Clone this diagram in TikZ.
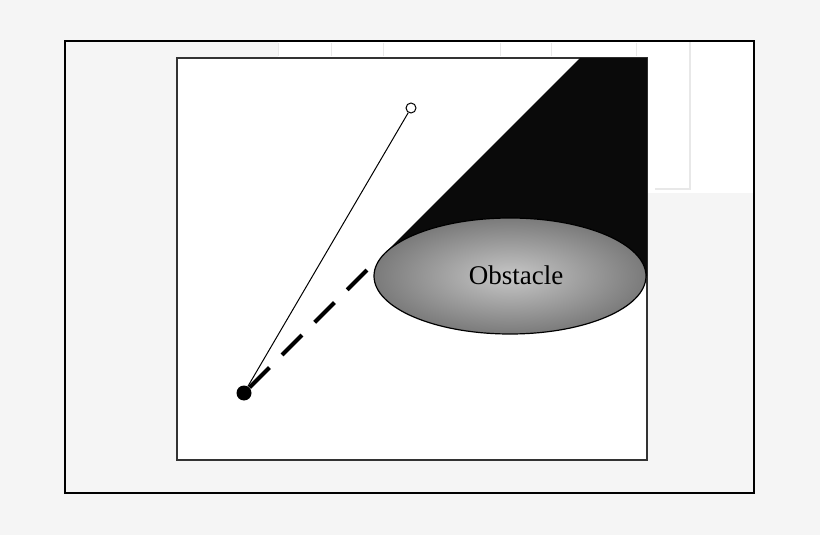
\documentclass[tikz,border=0pt]{standalone}
\usepackage{fontspec}
\setmainfont{Liberation Serif}
\usetikzlibrary{shapes.geometric}
\definecolor{pagegray}{HTML}{F5F5F5}
\definecolor{faintgray}{HTML}{E8E8E8}
\tikzset{
  framebox/.style={draw=black, line width=0.75pt},
  fieldbox/.style={draw=black!80, line width=1.25pt, fill=white},
  robotdot/.style={circle, fill=black, inner sep=0pt, minimum size=7.5pt},
  goaldot/.style={circle, draw=black, fill=white, line width=0.5pt, inner sep=0pt, minimum size=5pt},
  obstaclebox/.style={ellipse, draw=black, line width=0.6pt, inner sep=0pt,
    minimum width=136pt, minimum height=58pt,
    inner color=black!22, outer color=black!52},
  sightline/.style={line width=0.5pt},
  blockedline/.style={line width=2pt, dash pattern=on 14pt off 9pt},
}
\begin{document}
\begin{tikzpicture}[x=0.5pt, y=-0.5pt]
\useasboundingbox (0,0) rectangle (820,535);
\fill[pagegray] (0,0) rectangle (820,535);

% faint background residue
\fill[white] (278,42) rectangle (753,193);
\draw[faintgray, line width=1pt] (690,42) -- (690,189) -- (655,189);
\foreach \tx in {278,331,383,500,551,636}
  \draw[faintgray, line width=0.5pt] (\tx,43) -- (\tx,56);

% frames
\draw[framebox] (65,41) rectangle (754,493);
\draw[fieldbox] (177,58) rectangle (647,460);

% shadow behind the obstacle
\fill[black!96] (385,253) -- (580,58) -- (647,58) -- (647,276) -- (510,276) -- cycle;

% obstacle, robot and goal
\node[obstaclebox] (obstacle) at (510,276) {};
\node[font=\fontsize{13.5}{16}\selectfont] (obslabel) at (516,275) {Obstacle};
\node[robotdot] (robot) at (244,393) {};
\node[goaldot] (goal) at (411,108) {};
\coordinate (blocked) at (369,268);

% lines of sight
\draw[sightline] (robot) -- (goal);
\draw[blockedline] (robot) -- (blocked);

\end{tikzpicture}
\end{document}
